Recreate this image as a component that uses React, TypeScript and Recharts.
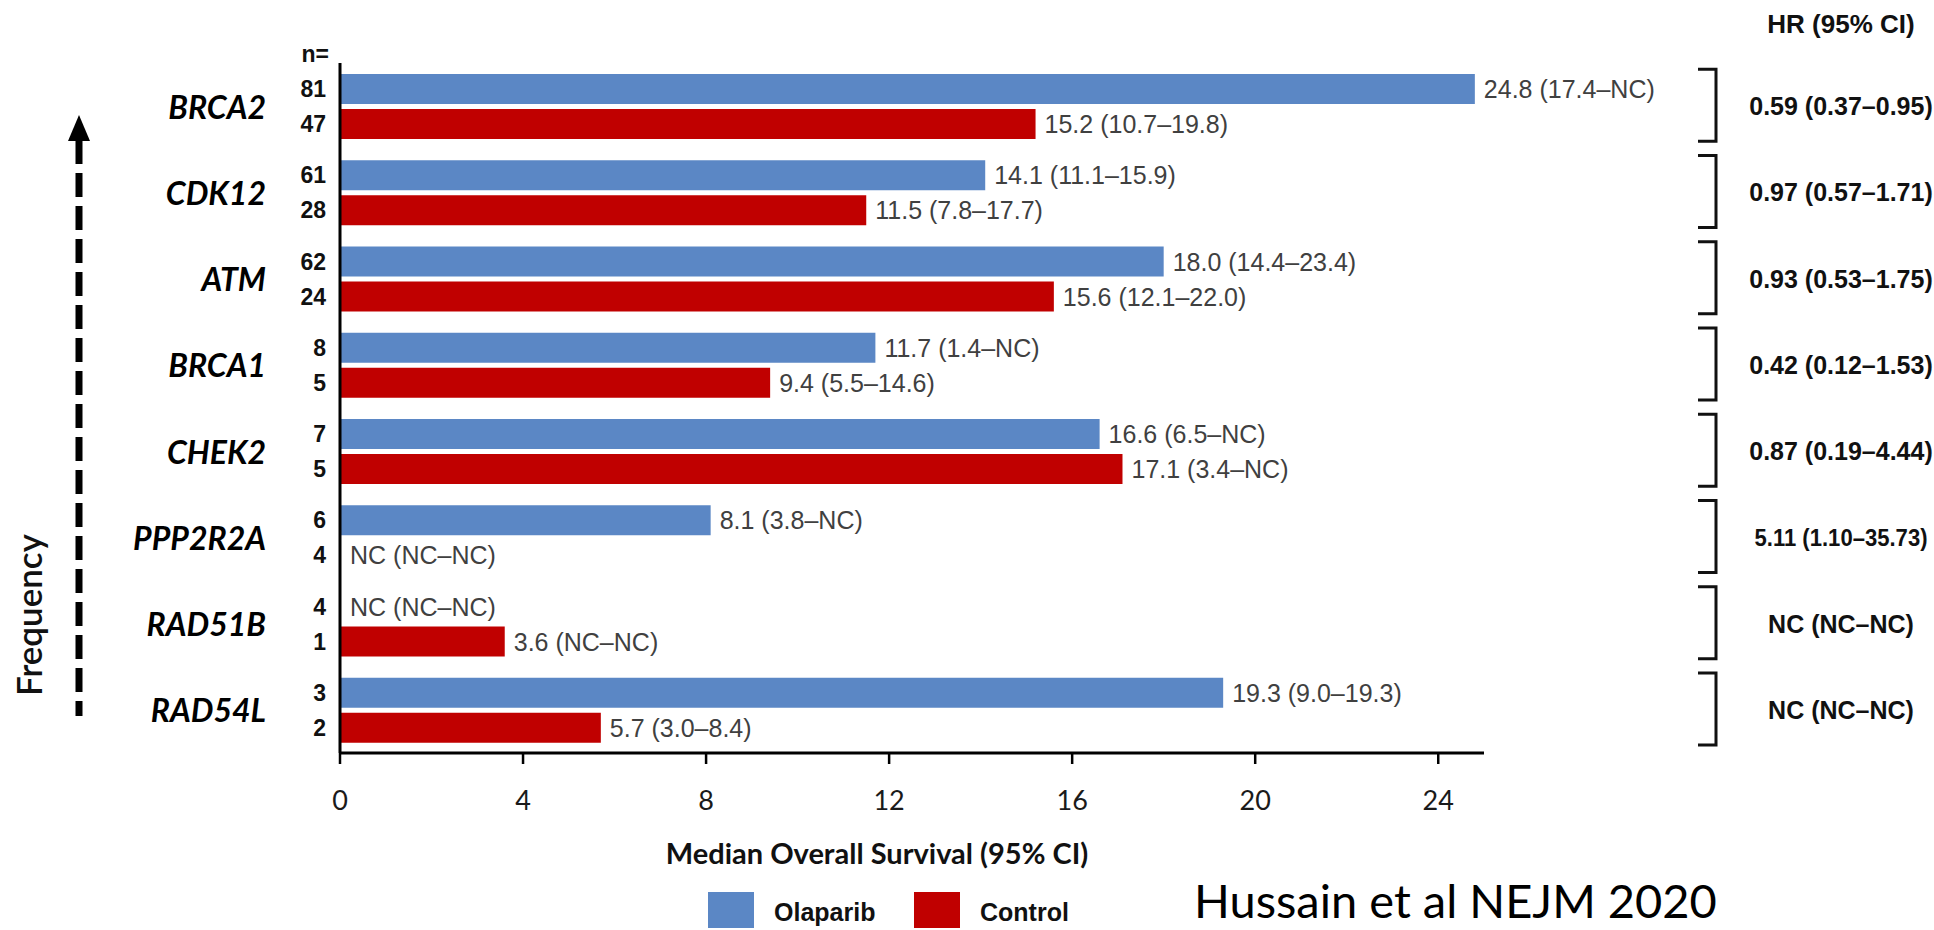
import React from "react";
import { BarChart, Bar, XAxis, YAxis, LabelList, Cell } from "recharts";

// OS by gene, top to bottom as shown in the chart (0 = not calculable)
const genes = ["BRCA2", "CDK12", "ATM", "BRCA1", "CHEK2", "PPP2R2A", "RAD51B", "RAD54L"];
const olaparibOS = [24.8, 14.1, 18.0, 11.7, 16.6, 8.1, 0, 19.3];
const controlOS = [15.2, 11.5, 15.6, 9.4, 17.1, 0, 3.6, 5.7];
const olaparibText = [
  "24.8 (17.4–NC)", "14.1 (11.1–15.9)", "18.0 (14.4–23.4)", "11.7 (1.4–NC)",
  "16.6 (6.5–NC)", "8.1 (3.8–NC)", "NC (NC–NC)", "19.3 (9.0–19.3)",
];
const controlText = [
  "15.2 (10.7–19.8)", "11.5 (7.8–17.7)", "15.6 (12.1–22.0)", "9.4 (5.5–14.6)",
  "17.1 (3.4–NC)", "NC (NC–NC)", "3.6 (NC–NC)", "5.7 (3.0–8.4)",
];
const olaparibN = [81, 61, 62, 8, 7, 6, 4, 3];
const controlN = [47, 28, 24, 5, 5, 4, 1, 2];
const hazardRatios = [
  "0.59 (0.37–0.95)", "0.97 (0.57–1.71)", "0.93 (0.53–1.75)", "0.42 (0.12–1.53)",
  "0.87 (0.19–4.44)", "5.11 (1.10–35.73)", "NC (NC–NC)", "NC (NC–NC)",
];
const xTicks = [0, 4, 8, 12, 16, 20, 24];

const BLUE = "#5B87C5";
const RED = "#C00000";
const ARIAL = "'Liberation Sans', Arial, sans-serif";
const CALIBRI = "Lato, 'Open Sans', sans-serif";

const series = [
  { key: "olaparib", name: "Olaparib", color: BLUE },
  { key: "control", name: "Control", color: RED },
];

const data = genes.map((gene, i) => ({
  gene,
  olaparib: olaparibOS[i],
  control: controlOS[i],
  olaparibText: olaparibText[i],
  controlText: controlText[i],
  olaparibN: olaparibN[i],
  controlN: controlN[i],
}));

const box = (p: any) => {
  const vb = p.viewBox || {};
  return {
    x: Number(vb.x ?? p.x),
    y: Number(vb.y ?? p.y),
    w: Number(vb.width ?? p.width ?? 0),
    h: Number(vb.height ?? p.height ?? 0),
  };
};

const ValueLabel = (p: any) => {
  const { x, y, w, h } = box(p);
  return (
    <text x={x + w + 9} y={y + h / 2} dominantBaseline="central" fill="#404040"
      style={{ fontFamily: ARIAL, fontSize: 25 }}>
      {p.value}
    </text>
  );
};

const CountLabel = (p: any) => {
  const { x, y, h } = box(p);
  return (
    <text x={x - 14} y={y + h / 2} textAnchor="end" dominantBaseline="central" fill="#111"
      style={{ fontFamily: ARIAL, fontSize: 23, fontWeight: "bold" }}>
      {p.value}
    </text>
  );
};

const GeneTick = (props: any) => {
  const { y, payload } = props;
  const i = genes.indexOf(payload.value);
  const hr = hazardRatios[i] || "";
  // the longest HR text is squeezed sideways, as in the original, so it fits the page edge
  const long = hr.length > 16;
  return (
    <g>
      <text x={266} y={y} textAnchor="end" dominantBaseline="central" fill="#000"
        style={{ fontFamily: CALIBRI, fontSize: 32, fontWeight: "bold", fontStyle: "italic" }}>
        {payload.value}
      </text>
      <path d={`M1698 ${y - 37} H1716 V${y + 35} H1698`} stroke="#111" strokeWidth={3} fill="none" />
      <text x={0} y={0} transform={`translate(1841 ${y}) scale(${long ? 0.92 : 1} 1)`}
        textAnchor="middle" dominantBaseline="central" fill="#111"
        style={{ fontFamily: ARIAL, fontSize: long ? 24 : 25, fontWeight: "bold" }}>
        {hr}
      </text>
    </g>
  );
};

export default function App() {
  return (
    <div style={{ position: "absolute", left: 0, top: 0, width: 1934, height: 930, background: "#fff" }}>
      <BarChart
        width={1934}
        height={930}
        data={data}
        layout="vertical"
        barGap={5}
        margin={{ top: 63, right: 450, left: 280, bottom: 117 }}
      >
        <XAxis
          type="number"
          domain={[0, 25]}
          ticks={xTicks}
          height={60}
          axisLine={{ stroke: "#000", strokeWidth: 3 }}
          tickLine={{ stroke: "#000", strokeWidth: 2.5 }}
          tickSize={11}
          tickMargin={27}
          tick={{ fill: "#1a1a1a", fontSize: 27, fontFamily: CALIBRI }}
        />
        <YAxis
          type="category"
          dataKey="gene"
          width={60}
          axisLine={{ stroke: "#000", strokeWidth: 3 }}
          tickLine={false}
          tick={<GeneTick />}
          interval={0}
        />
        {series.map((s) => (
          <Bar key={s.key} dataKey={s.key} name={s.name} fill={s.color} barSize={30} minPointSize={1}
            isAnimationActive={false}>
            {data.map((d: any, i) => (
              <Cell key={i} fill={d[s.key] === 0 ? "transparent" : s.color} />
            ))}
            <LabelList dataKey={`${s.key}Text`} content={<ValueLabel />} />
            <LabelList dataKey={`${s.key}N`} content={<CountLabel />} />
          </Bar>
        ))}
      </BarChart>

      <svg width={1934} height={930} style={{ position: "absolute", left: 0, top: 0, pointerEvents: "none" }}>
        <text x={329} y={54} textAnchor="end" dominantBaseline="central" fill="#111"
          style={{ fontFamily: ARIAL, fontSize: 23, fontWeight: "bold" }}>n=</text>
        <text x={1841} y={24} textAnchor="middle" dominantBaseline="central" fill="#111"
          style={{ fontFamily: ARIAL, fontSize: 26, fontWeight: "bold" }}>HR (95% CI)</text>

        {/* frequency arrow */}
        <line x1={79} y1={140} x2={79} y2={716} stroke="#000" strokeWidth={7} strokeDasharray="24 9" />
        <polygon points="79,115 68,141 90,141" fill="#000" />
        <text x={0} y={0} transform="translate(28 615) rotate(-90)" textAnchor="middle" dominantBaseline="central"
          fill="#111" style={{ fontFamily: CALIBRI, fontSize: 35, fontWeight: 600 }}>Frequency</text>

        <text x={877} y={852} textAnchor="middle" dominantBaseline="central" fill="#111"
          style={{ fontFamily: CALIBRI, fontSize: 29, fontWeight: "bold" }}>Median Overall Survival (95% CI)</text>

        {/* legend */}
        {series.map((s, i) => {
          const x0 = i === 0 ? 708 : 914;
          return (
            <g key={s.key}>
              <rect x={x0} y={892} width={46} height={36} fill={s.color} />
              <text x={x0 + 66} y={912} dominantBaseline="central" fill="#111"
                style={{ fontFamily: ARIAL, fontSize: 25, fontWeight: "bold" }}>{s.name}</text>
            </g>
          );
        })}

        <text x={1194} y={918} fill="#000"
          style={{ fontFamily: CALIBRI, fontSize: 47 }}>Hussain et al NEJM 2020</text>
      </svg>
    </div>
  );
}
